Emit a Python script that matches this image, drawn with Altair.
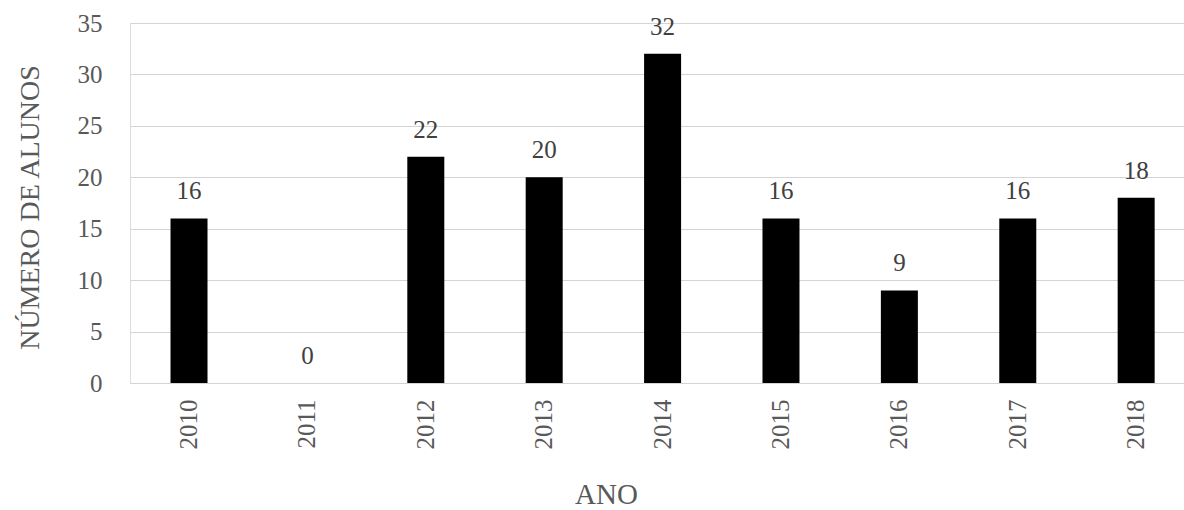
import altair as alt
import pandas as pd

anos = ["2010", "2011", "2012", "2013", "2014", "2015", "2016", "2017", "2018"]
alunos = [16, 0, 22, 20, 32, 16, 9, 16, 18]
y_ticks = [0, 5, 10, 15, 20, 25, 30, 35]

df = pd.DataFrame({"ano": anos, "alunos": alunos})

FONT = "Liberation Serif, Times New Roman, Times, serif"

x_enc = alt.X(
    "ano:N",
    sort=anos,
    scale=alt.Scale(paddingInner=0.6875, paddingOuter=0.295, align=0.58),
    axis=alt.Axis(
        title="ANO",
        labelAngle=-90,
        labelAlign="right",
        labelBaseline="middle",
        labelPadding=16,
        labelFont=FONT,
        labelFontSize=25,
        labelColor="#595959",
        ticks=False,
        domain=False,
        titleFont=FONT,
        titleFontSize=29,
        titleFontWeight="normal",
        titleColor="#595959",
        titleX=476,
        titleY=97,
        titleBaseline="top",
        titleAlign="center",
    ),
)

y_enc = alt.Y(
    "alunos:Q",
    scale=alt.Scale(domain=[0, 35], nice=False, zero=True),
    axis=alt.Axis(
        title="NÚMERO DE ALUNOS",
        values=y_ticks,
        labelFont=FONT,
        labelFontSize=25,
        labelColor="#595959",
        labelPadding=28,
        ticks=False,
        domain=False,
        grid=True,
        gridColor="#d4d4d4",
        gridWidth=1.2,
        titleFont=FONT,
        titleFontSize=28,
        titleFontWeight="normal",
        titleColor="#595959",
        titleX=-100,
        titleY=184,
        titleAlign="center",
        titleBaseline="middle",
        titleAngle=-90,
    ),
)

bars = alt.Chart(df).mark_bar(color="#000000").encode(x=x_enc, y=y_enc)

labels = alt.Chart(df).mark_text(
    font=FONT, fontSize=25, color="#404040", baseline="bottom", dy=-14
).encode(x=alt.X("ano:N", sort=anos), y=alt.Y("alunos:Q"), text=alt.Text("alunos:Q"))

chart = (
    alt.layer(bars, labels)
    .properties(
        width=1054,
        height=360,
        autosize=alt.AutoSizeParams(type="none"),
        padding={"left": 130, "top": 23, "right": 0, "bottom": 127},
    )
    .configure_view(stroke=None)
    .configure(background="white")
)

chart.save("out.html", embed_options={"renderer": "svg", "actions": False})
